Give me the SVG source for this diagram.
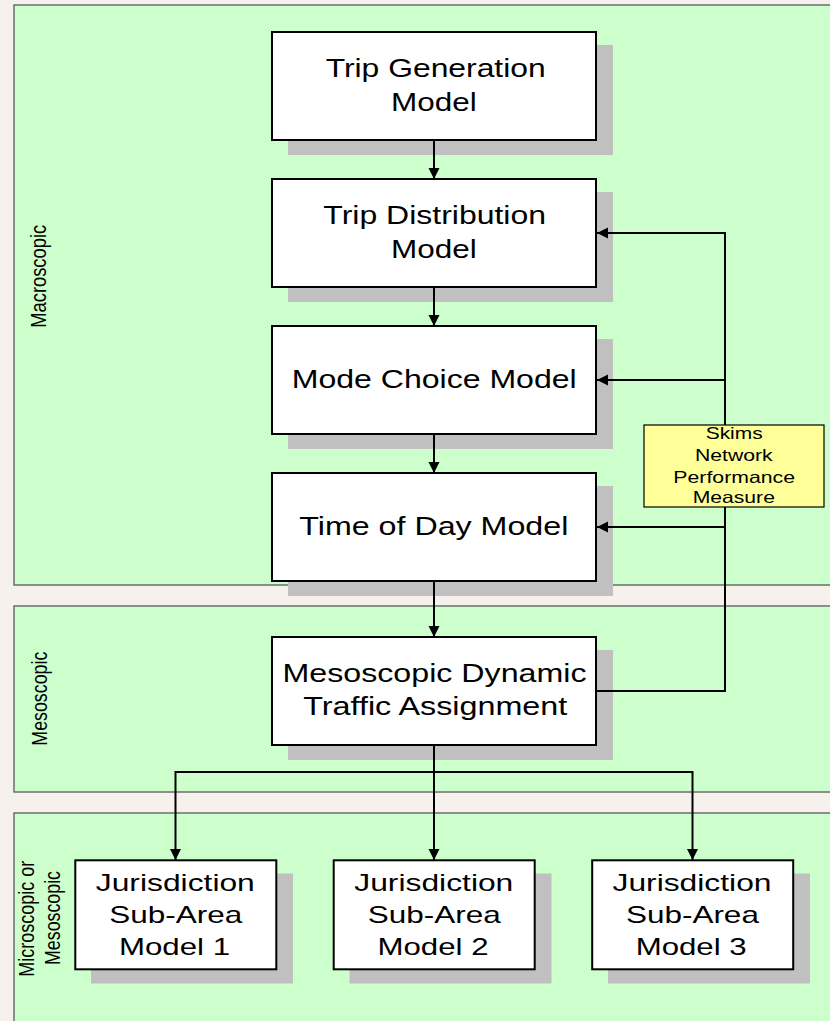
<svg xmlns="http://www.w3.org/2000/svg" width="830" height="1021" viewBox="0 0 830 1021">
<style>
.panel{fill:#CCFFCC;stroke:#5a5a5a;stroke-width:1.3}
.box{fill:#fff;stroke:#000;stroke-width:2}
.shadow{fill:#C0C0C0}
.note{fill:#FFFF99;stroke:#000;stroke-width:1.2}
.t{font-family:"Liberation Sans",Arial,sans-serif;fill:#000;text-anchor:middle}
.big{font-size:25px}
.jur{font-size:24px}
.small{font-size:16.5px}
.lab{font-size:18px}
.conn{fill:none;stroke:#000;stroke-width:2}
</style>
<defs>
<marker id="arr" markerUnits="userSpaceOnUse" markerWidth="12" markerHeight="12" viewBox="0 0 12 12" refX="11" refY="6" orient="auto">
<path d="M0,0.5 L11,6 L0,11.5 Z" fill="#000"/>
</marker>
</defs>
<rect x="0" y="0" width="830" height="1021" fill="#F6F1EC"/>
<g id="panels">
<rect class="panel" x="14" y="5" width="830" height="580"/>
<rect class="panel" x="14" y="606" width="830" height="186"/>
<rect class="panel" x="14" y="813" width="830" height="230"/>
<text class="t lab" transform="translate(46,276.3) scale(1.25,1) rotate(-90)" textLength="103" lengthAdjust="spacingAndGlyphs">Macroscopic</text>
<text class="t lab" transform="translate(47,698.7) scale(1.25,1) rotate(-90)" textLength="94" lengthAdjust="spacingAndGlyphs">Mesoscopic</text>
<text class="t lab" transform="translate(34,918.7) scale(1.25,1) rotate(-90)" textLength="116" lengthAdjust="spacingAndGlyphs">Microscopic or</text>
<text class="t lab" transform="translate(60,918) scale(1.25,1) rotate(-90)" textLength="94" lengthAdjust="spacingAndGlyphs">Mesoscopic</text>
</g>
<g id="trip-generation">
<rect class="shadow" x="288" y="45" width="325" height="110"/>
<rect class="box" x="272" y="32" width="324" height="108"/>
<text class="t big" x="435.7" y="77.3" textLength="220" lengthAdjust="spacingAndGlyphs">Trip Generation</text>
<text class="t big" x="433.8" y="110.7" textLength="85.7" lengthAdjust="spacingAndGlyphs">Model</text>
</g>
<g id="trip-distribution">
<rect class="shadow" x="288" y="192" width="325" height="110"/>
<rect class="box" x="272" y="179" width="324" height="108"/>
<text class="t big" x="434.7" y="224" textLength="222.7" lengthAdjust="spacingAndGlyphs">Trip Distribution</text>
<text class="t big" x="433.8" y="258" textLength="85.7" lengthAdjust="spacingAndGlyphs">Model</text>
</g>
<g id="mode-choice">
<rect class="shadow" x="288" y="339" width="325" height="110"/>
<rect class="box" x="272" y="326" width="324" height="108"/>
<text class="t big" x="434.2" y="388.3" textLength="285" lengthAdjust="spacingAndGlyphs">Mode Choice Model</text>
</g>
<g id="time-of-day">
<rect class="shadow" x="288" y="486" width="325" height="110"/>
<rect class="box" x="272" y="473" width="324" height="108"/>
<text class="t big" x="433.8" y="535.3" textLength="269" lengthAdjust="spacingAndGlyphs">Time of Day Model</text>
</g>
<g id="mesoscopic-dta">
<rect class="shadow" x="288" y="650" width="325" height="110"/>
<rect class="box" x="272" y="637" width="324" height="108"/>
<text class="t big" x="434.5" y="681.7" textLength="304" lengthAdjust="spacingAndGlyphs">Mesoscopic Dynamic</text>
<text class="t big" x="435.3" y="714.7" textLength="264" lengthAdjust="spacingAndGlyphs">Traffic Assignment</text>
</g>
<g id="jurisdiction-1">
<rect class="shadow" x="91" y="873.5" width="202" height="110"/>
<rect class="box" x="75.3" y="860.3" width="201" height="109"/>
<text class="t jur" x="175.3" y="890.7" textLength="159" lengthAdjust="spacingAndGlyphs">Jurisdiction</text>
<text class="t jur" x="175.7" y="922.7" textLength="133" lengthAdjust="spacingAndGlyphs">Sub-Area</text>
<text class="t jur" x="174.5" y="955" textLength="111" lengthAdjust="spacingAndGlyphs">Model 1</text>
</g>
<g id="jurisdiction-2">
<rect class="shadow" x="349.5" y="873.5" width="202" height="110"/>
<rect class="box" x="333.7" y="860.3" width="201" height="109"/>
<text class="t jur" x="433.8" y="890.7" textLength="159" lengthAdjust="spacingAndGlyphs">Jurisdiction</text>
<text class="t jur" x="434.2" y="922.7" textLength="133" lengthAdjust="spacingAndGlyphs">Sub-Area</text>
<text class="t jur" x="433" y="955" textLength="111" lengthAdjust="spacingAndGlyphs">Model 2</text>
</g>
<g id="jurisdiction-3">
<rect class="shadow" x="608" y="873.5" width="202" height="110"/>
<rect class="box" x="592.2" y="860.3" width="201" height="109"/>
<text class="t jur" x="692" y="890.7" textLength="159" lengthAdjust="spacingAndGlyphs">Jurisdiction</text>
<text class="t jur" x="692.4" y="922.7" textLength="133" lengthAdjust="spacingAndGlyphs">Sub-Area</text>
<text class="t jur" x="691.2" y="955" textLength="111" lengthAdjust="spacingAndGlyphs">Model 3</text>
</g>
<g id="connectors">
<line class="conn" x1="434" y1="141" x2="434" y2="179" marker-end="url(#arr)"/>
<line class="conn" x1="434" y1="288" x2="434" y2="326" marker-end="url(#arr)"/>
<line class="conn" x1="434" y1="435" x2="434" y2="473" marker-end="url(#arr)"/>
<line class="conn" x1="434" y1="582" x2="434" y2="637" marker-end="url(#arr)"/>
<path class="conn" d="M597,691 H725 V233 H597" marker-end="url(#arr)"/>
<line class="conn" x1="725" y1="380" x2="597" y2="380" marker-end="url(#arr)"/>
<line class="conn" x1="725" y1="527" x2="597" y2="527" marker-end="url(#arr)"/>
<line class="conn" x1="434" y1="746" x2="434" y2="860" marker-end="url(#arr)"/>
<path class="conn" d="M434,772 H175.5 V860" marker-end="url(#arr)"/>
<path class="conn" d="M434,772 H692.5 V860" marker-end="url(#arr)"/>
</g>
<g id="skims-note">
<rect class="note" x="644" y="425" width="180" height="82"/>
<text class="t small" x="734.2" y="439" textLength="57" lengthAdjust="spacingAndGlyphs">Skims</text>
<text class="t small" x="733.8" y="460.7" textLength="77.7" lengthAdjust="spacingAndGlyphs">Network</text>
<text class="t small" x="734.2" y="482.7" textLength="121.7" lengthAdjust="spacingAndGlyphs">Performance</text>
<text class="t small" x="733.8" y="503.3" textLength="82.3" lengthAdjust="spacingAndGlyphs">Measure</text>
</g>
</svg>
